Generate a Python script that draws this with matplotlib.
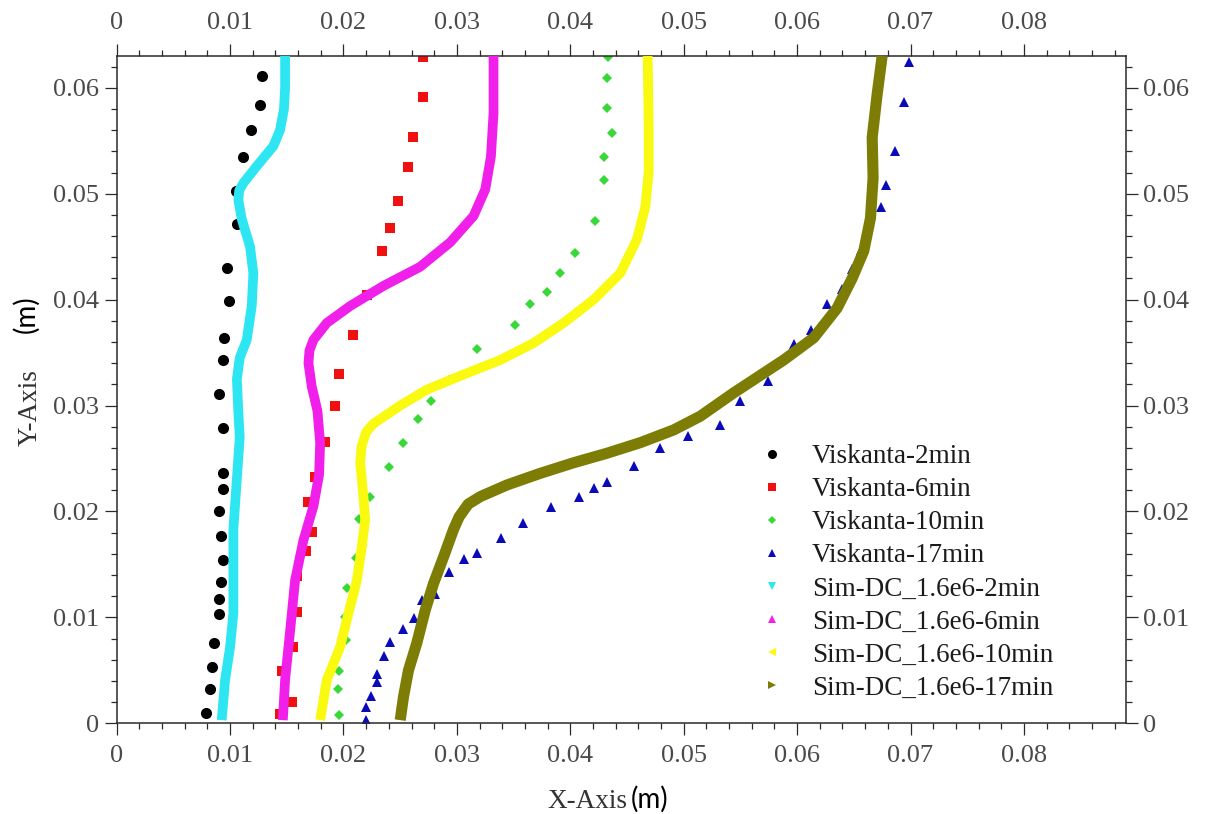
import matplotlib
matplotlib.use("Agg")
import matplotlib.pyplot as plt
from matplotlib.lines import Line2D
from matplotlib.ticker import MultipleLocator, FixedLocator, FuncFormatter

# ---------------- data ----------------
visk2_x = [0.00788, 0.0082, 0.00838, 0.00859, 0.00906, 0.00903, 0.00918, 0.0094, 0.00918, 0.00906,
           0.0094, 0.0094, 0.0094, 0.00906, 0.0094, 0.0095, 0.00988, 0.00973, 0.01059, 0.01053,
           0.01115, 0.01185, 0.01267, 0.01279]
visk2_y = [0.0010, 0.0032, 0.0053, 0.0076, 0.0103, 0.0117, 0.0133, 0.0154, 0.0177, 0.0200,
           0.0221, 0.0236, 0.0279, 0.0311, 0.0343, 0.0364, 0.0399, 0.0430, 0.0471, 0.0503,
           0.0535, 0.0560, 0.0584, 0.0611]

visk6_x = [0.01441, 0.01544, 0.01456, 0.01558, 0.01588, 0.01588, 0.0167, 0.01726, 0.01691, 0.0175,
           0.01838, 0.01926, 0.01956, 0.02088, 0.02206, 0.02341, 0.02412, 0.02485, 0.02565, 0.02617,
           0.0270, 0.0270]
visk6_y = [0.0009, 0.0020, 0.0049, 0.0072, 0.0105, 0.0139, 0.0163, 0.0181, 0.0209, 0.0233,
           0.0266, 0.0300, 0.0330, 0.0367, 0.0404, 0.0446, 0.0468, 0.0493, 0.0525, 0.0554,
           0.0591, 0.0629]

visk10_x = [0.01959, 0.0195, 0.01959, 0.0202, 0.02015, 0.0203, 0.02109, 0.02141, 0.02235, 0.02397,
            0.02524, 0.02653, 0.02771, 0.02926, 0.03176, 0.03515, 0.03647, 0.03794, 0.03912, 0.04044,
            0.0422, 0.043, 0.043, 0.04368, 0.04324, 0.04324, 0.04332]
visk10_y = [0.0008, 0.0032, 0.0049, 0.0079, 0.0100, 0.0128, 0.0156, 0.0193, 0.0214, 0.0242,
            0.0265, 0.0287, 0.0304, 0.0324, 0.0353, 0.0376, 0.0396, 0.0407, 0.0425, 0.0444,
            0.0474, 0.0513, 0.0535, 0.0557, 0.0581, 0.0609, 0.0629]

visk17_x = [0.02197, 0.02197, 0.02244, 0.02294, 0.02294, 0.02359, 0.02406, 0.02524, 0.02618, 0.02691,
            0.02809, 0.02932, 0.03059, 0.03176, 0.03388, 0.03585, 0.0383, 0.04076, 0.04206, 0.04324,
            0.04565, 0.04788, 0.05035, 0.05318, 0.05500, 0.05741, 0.0597, 0.06124, 0.06265, 0.06397,
            0.06485, 0.06559, 0.06744, 0.06788, 0.06859, 0.06941, 0.06985]
visk17_y = [0.0003, 0.0015, 0.0026, 0.0039, 0.0047, 0.0064, 0.0077, 0.0089, 0.0099, 0.0116,
            0.0122, 0.0143, 0.0155, 0.0161, 0.0175, 0.0189, 0.0204, 0.0214, 0.0222, 0.0228,
            0.0243, 0.0260, 0.0271, 0.0282, 0.0304, 0.0323, 0.0358, 0.0371, 0.0396, 0.0410,
            0.0429, 0.0447, 0.0487, 0.0508, 0.0540, 0.0587, 0.0624]

sim2_x = [0.00926, 0.00956, 0.0100, 0.01029, 0.01029, 0.01029, 0.01059, 0.01085, 0.01070, 0.01060,
          0.01085, 0.01147, 0.01191, 0.01205, 0.01176, 0.01103, 0.01073, 0.01080, 0.01117, 0.01235,
          0.01382, 0.01440, 0.01475, 0.01485, 0.01485]
sim2_y = [0.0003, 0.0041, 0.0072, 0.0104, 0.0135, 0.0183, 0.0230, 0.0270, 0.0300, 0.0325,
          0.0345, 0.0362, 0.0394, 0.0425, 0.0450, 0.0476, 0.0494, 0.0503, 0.0510, 0.0526,
          0.0545, 0.0560, 0.0580, 0.0600, 0.0630]

sim6_x = [0.01465, 0.01485, 0.0153, 0.01573, 0.01647, 0.01735, 0.01785, 0.01794, 0.01770, 0.01720,
          0.01691, 0.01700, 0.01735, 0.01853, 0.02059, 0.02353, 0.02676, 0.0294, 0.03147, 0.0325,
          0.03300, 0.03323, 0.03323]
sim6_y = [0.0003, 0.0041, 0.0088, 0.0135, 0.0173, 0.0205, 0.0235, 0.0265, 0.0295, 0.0318,
          0.0340, 0.0352, 0.0362, 0.0378, 0.0394, 0.0413, 0.0431, 0.0454, 0.0479, 0.0504,
          0.0535, 0.0576, 0.0630]

sim10_x = [0.01794, 0.01853, 0.0197, 0.02044, 0.02118, 0.02162, 0.02191, 0.02176, 0.02147, 0.02160,
           0.02200, 0.02265, 0.025, 0.02735, 0.03029, 0.03382, 0.03676, 0.03941, 0.04206, 0.04441,
           0.04588, 0.04662, 0.04691, 0.04691, 0.04682]
sim10_y = [0.0003, 0.0041, 0.0072, 0.0104, 0.0135, 0.0167, 0.0192, 0.0214, 0.0246, 0.0262,
           0.0275, 0.0283, 0.0300, 0.0315, 0.0328, 0.0343, 0.0359, 0.0378, 0.0400, 0.0425,
           0.0457, 0.0488, 0.0520, 0.0567, 0.0630]

sim17_x = [0.025, 0.02529, 0.02573, 0.02647, 0.02721, 0.02794, 0.02882, 0.0297, 0.03020, 0.03100,
           0.03206, 0.03441, 0.03735, 0.04029, 0.04324, 0.04618, 0.04912, 0.05147, 0.05441, 0.05882,
           0.06147, 0.06353, 0.06485, 0.06588, 0.06647, 0.0667, 0.06662, 0.06706, 0.0675]
sim17_y = [0.0003, 0.0025, 0.0050, 0.0076, 0.0107, 0.0132, 0.0157, 0.0183, 0.0195, 0.0207,
           0.0214, 0.0225, 0.0236, 0.0246, 0.0255, 0.0265, 0.0277, 0.0290, 0.0312, 0.0343,
           0.0364, 0.0392, 0.0420, 0.0446, 0.0477, 0.0515, 0.0553, 0.0594, 0.0630]

labels = ["Viskanta-2min", "Viskanta-6min", "Viskanta-10min", "Viskanta-17min",
          "Sim-DC_1.6e6-2min", "Sim-DC_1.6e6-6min", "Sim-DC_1.6e6-10min", "Sim-DC_1.6e6-17min"]
x_ticks = [0, 0.01, 0.02, 0.03, 0.04, 0.05, 0.06, 0.07, 0.08]
y_ticks = [0, 0.01, 0.02, 0.03, 0.04, 0.05, 0.06]

# ---------------- style ----------------
SERIF = "Liberation Serif"
plt.rcParams["font.family"] = [SERIF, "DejaVu Sans"]

fig = plt.figure(figsize=(12.08, 8.14), dpi=100)
ax = fig.add_axes([0.0966, 0.1114, 0.8355, 0.8198])

c_cyan = "#2ee6f2"
c_mag = "#f020ea"
c_yel = "#fafa10"
c_olive = "#7d7d05"
c_red = "#f01010"
c_green = "#38d838"
c_blue = "#0a0ab8"

ax.plot(visk2_x, visk2_y, "o", color="black", ms=8.0, mew=0, zorder=2)
ax.plot(visk6_x, visk6_y, "s", color=c_red, ms=7.6, mew=0, zorder=2)
ax.plot(visk10_x, visk10_y, "D", color=c_green, ms=5.4, mew=0, zorder=2)
ax.plot(visk17_x, visk17_y, "^", color=c_blue, ms=7.2, mew=0, zorder=2)

lw = 7.0
common = dict(solid_capstyle="butt", solid_joinstyle="round", zorder=3)
ax.plot(sim2_x, sim2_y, "-", color=c_cyan, lw=lw, **common)
ax.plot(sim6_x, sim6_y, "-", color=c_mag, lw=lw, **common)
ax.plot(sim10_x, sim10_y, "-", color=c_yel, lw=lw, **common)
ax.plot(sim17_x, sim17_y, "-", color=c_olive, lw=lw + 1.0, **common)

ax.set_xlim(0, 0.089)
ax.set_ylim(0, 0.063)

fmt = FuncFormatter(lambda v, p: "0" if abs(v) < 1e-12 else f"{v:.2f}")
ax.xaxis.set_major_locator(FixedLocator(x_ticks))
ax.yaxis.set_major_locator(FixedLocator(y_ticks))
ax.xaxis.set_minor_locator(MultipleLocator(0.002))
ax.yaxis.set_minor_locator(MultipleLocator(0.002))
ax.xaxis.set_major_formatter(fmt)
ax.yaxis.set_major_formatter(fmt)

for s in ax.spines.values():
    s.set_linewidth(1.1)
    s.set_color("#2a2a2a")

ax.tick_params(which="both", direction="out", top=True, right=True,
               labeltop=True, labelright=True, labelbottom=True, labelleft=True,
               color="#2a2a2a", width=0.9)
ax.tick_params(which="major", length=8.6, labelsize=19, labelcolor="#4a4a4a")
ax.tick_params(which="minor", length=4.3)
ax.xaxis.set_tick_params(which="major", pad=7)
ax.yaxis.set_tick_params(which="major", pad=4)
for lab in ax.get_xticklabels() + ax.get_yticklabels():
    lab.set_fontfamily(SERIF)

# ---------------- legend ----------------
handles = [
    Line2D([], [], ls="none", marker="o", color="black", ms=6.5, mew=0),
    Line2D([], [], ls="none", marker="s", color=c_red, ms=6.3, mew=0),
    Line2D([], [], ls="none", marker="D", color=c_green, ms=4.5, mew=0),
    Line2D([], [], ls="none", marker="^", color=c_blue, ms=6.3, mew=0),
    Line2D([], [], ls="none", marker="v", color=c_cyan, ms=6.3, mew=0),
    Line2D([], [], ls="none", marker="^", color=c_mag, ms=6.3, mew=0),
    Line2D([], [], ls="none", marker="<", color=c_yel, ms=6.3, mew=0),
    Line2D([], [], ls="none", marker=">", color=c_olive, ms=6.3, mew=0),
]
leg = fig.legend(handles, labels, loc="upper left",
                 bbox_to_anchor=(758.5 / 1208, (814 - 444) / 814),
                 bbox_transform=fig.transFigure, frameon=False,
                 prop={"family": SERIF, "size": 19.5},
                 handlelength=1.0, handletextpad=0.97, labelspacing=0.3,
                 borderpad=0, borderaxespad=0, numpoints=1)
for t in leg.get_texts():
    t.set_color("#1c1c1c")

# ---------------- axis titles ----------------
fig.text(627 / 1208, 6.5 / 814, "X-Axis", ha="right", va="baseline",
         family=SERIF, size=19.5, color="#333333")
fig.text(631 / 1208, 6.5 / 814, "(m)", ha="left", va="baseline",
         family=["Lato", "DejaVu Sans"], size=20, color="black")
fig.text(37 / 1208, (814 - 446) / 814, "Y-Axis", ha="left", va="baseline",
         rotation=90, rotation_mode="anchor", family=SERIF, size=19.5, color="#333333")
fig.text(34 / 1208, (814 - 333) / 814, "(m)", ha="left", va="baseline",
         rotation=90, rotation_mode="anchor", family=["Lato", "DejaVu Sans"], size=20, color="black")

fig.savefig("out.png", dpi=100)
